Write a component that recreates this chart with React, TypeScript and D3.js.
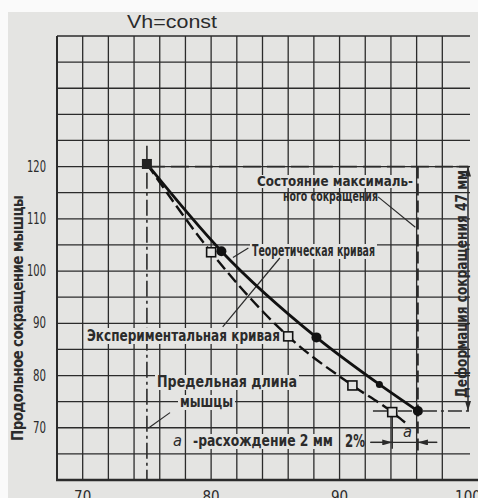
import React, { useRef, useEffect } from 'react';
import * as d3 from 'd3';

// theoretical curve (solid, filled dots)
const theoryX = [75, 80.8, 88.2, 93.1, 96.1];
const theoryY = [120.5, 103.8, 87.3, 78.3, 73.2];
// experimental curve (dashed, open squares); last point is only the line end
const expX = [75, 80, 86, 91, 94.1, 95.1];
const expY = [120.5, 103.6, 87.5, 78.1, 73, 71];

const yTicks = [70, 80, 90, 100, 110, 120];
const xTicks = [70, 80, 90, 100];

const BG = '#e4e4e2';
const INK = '#2b2b2b';
const FONT = "'DejaVu Sans Condensed', 'Liberation Sans Narrow', 'DejaVu Sans', sans-serif";

const App: React.FC = () => {
  const svgRef = useRef<SVGSVGElement>(null);

  useEffect(() => {
    if (!svgRef.current) return;
    const svg = d3.select(svgRef.current);
    svg.selectAll('*').remove();

    const width = 478;
    const height = 498;

    const x = d3.scaleLinear().domain([68, 100]).range([57, 468]);
    const y = d3.scaleLinear().domain([60, 145]).range([480, 36]);

    const defs = svg.append('defs');
    defs.append('marker')
      .attr('id', 'arr')
      .attr('viewBox', '0 0 10 6')
      .attr('refX', 10).attr('refY', 3)
      .attr('markerWidth', 10).attr('markerHeight', 6)
      .attr('markerUnits', 'userSpaceOnUse')
      .attr('orient', 'auto-start-reverse')
      .append('path')
      .attr('d', 'M0,0 L10,3 L0,6 Z')
      .attr('fill', INK);

    svg.append('rect').attr('width', width).attr('height', height).attr('fill', '#fafafa');
    svg.append('rect').attr('x', 8).attr('y', 12).attr('width', width - 8).attr('height', height - 12).attr('fill', BG);

    // grid
    const grid = svg.append('g').attr('stroke', INK).attr('stroke-width', 1.3);
    grid.selectAll('.vg')
      .data(d3.range(68, 99, 2))
      .enter().append('line')
      .attr('x1', d => x(d)).attr('x2', d => x(d))
      .attr('y1', y(60)).attr('y2', y(145))
      .attr('stroke-width', d => (d === 68 ? 2 : 1.3));
    grid.selectAll('.hg')
      .data(d3.range(65, 146, 5))
      .enter().append('line')
      .attr('x1', x(68)).attr('x2', 470)
      .attr('y1', d => y(d)).attr('y2', d => y(d));
    grid.append('line')
      .attr('x1', x(68) - 1).attr('x2', width)
      .attr('y1', y(60)).attr('y2', y(60))
      .attr('stroke-width', 2.4);

    // tick labels
    svg.append('g').selectAll('text')
      .data(yTicks)
      .enter().append('text')
      .attr('x', 46).attr('y', d => y(d) + 5)
      .attr('text-anchor', 'end')
      .attr('font-family', FONT).attr('font-size', 15).attr('fill', INK)
      .attr('textLength', d => (d >= 100 ? 19 : 13)).attr('lengthAdjust', 'spacingAndGlyphs')
      .text(d => d);
    svg.append('g').selectAll('text')
      .data(xTicks)
      .enter().append('text')
      .attr('x', d => x(d)).attr('y', 502)
      .attr('text-anchor', 'middle')
      .attr('font-family', FONT).attr('font-size', 15).attr('fill', INK)
      .text(d => d);

    svg.append('text')
      .attr('x', 172).attr('y', 28)
      .attr('text-anchor', 'middle')
      .attr('font-family', "'Liberation Sans', Arial, sans-serif")
      .attr('font-size', 19).attr('fill', INK)
      .attr('textLength', 90).attr('lengthAdjust', 'spacingAndGlyphs')
      .text('Vh=const');

    svg.append('text')
      .attr('transform', 'translate(23,318) rotate(-90)')
      .attr('text-anchor', 'middle')
      .attr('font-family', FONT).attr('font-size', 15).attr('font-weight', 'bold').attr('fill', INK)
      .attr('textLength', 246).attr('lengthAdjust', 'spacing')
      .text('Продольное  сокращение  мышцы');

    // labels with cleared background
    const label = (txt: string, lx: number, ly: number, len: number, size = 16, italic = false, bg = true) => {
      const t = svg.append('text')
        .attr('x', lx).attr('y', ly)
        .attr('font-family', FONT).attr('font-size', size).attr('fill', INK)
        .attr('font-weight', italic ? 'normal' : 'bold')
        .attr('font-style', italic ? 'italic' : 'normal')
        .attr('textLength', len).attr('lengthAdjust', 'spacingAndGlyphs')
        .text(txt);
      if (bg) {
        const b = (t.node() as SVGTextElement).getBBox();
        svg.insert('rect', () => t.node())
          .attr('x', b.x - 2).attr('y', b.y + 2).attr('width', b.width + 4).attr('height', b.height - 3)
          .attr('fill', BG);
      }
      return t;
    };

    // reference lines
    svg.append('line')
      .attr('x1', x(75)).attr('x2', x(75)).attr('y1', y(124)).attr('y2', y(60))
      .attr('stroke', INK).attr('stroke-width', 1.6).attr('stroke-dasharray', '16 4 3 4');
    svg.append('line')
      .attr('x1', x(75)).attr('x2', x(100)).attr('y1', y(120)).attr('y2', y(120))
      .attr('stroke', INK).attr('stroke-width', 1.8).attr('stroke-dasharray', '18 6');
    svg.append('line')
      .attr('x1', x(96.1)).attr('x2', x(96.1)).attr('y1', y(120)).attr('y2', y(65.5))
      .attr('stroke', INK).attr('stroke-width', 1.8).attr('stroke-dasharray', '12 5');
    svg.append('line')
      .attr('x1', x(92.6)).attr('x2', x(100.1)).attr('y1', y(73.2)).attr('y2', y(73.2))
      .attr('stroke', INK).attr('stroke-width', 1.5).attr('stroke-dasharray', '14 4 3 4');
    svg.append('line')
      .attr('x1', x(94.1)).attr('x2', x(94.1)).attr('y1', y(73)).attr('y2', y(66))
      .attr('stroke', INK).attr('stroke-width', 1.5);

    // right dimension: 47 mm
    svg.append('line')
      .attr('x1', x(100)).attr('x2', x(100)).attr('y1', y(73.2)).attr('y2', y(120))
      .attr('stroke', INK).attr('stroke-width', 1.5)
      .attr('marker-start', 'url(#arr)').attr('marker-end', 'url(#arr)');
    svg.append('line')
      .attr('x1', x(99.1)).attr('x2', x(100.1)).attr('y1', y(120)).attr('y2', y(120))
      .attr('stroke', INK).attr('stroke-width', 1.5);

    // "a" dimension
    const ay = 67.2;
    svg.append('line')
      .attr('x1', x(92.4)).attr('x2', x(97.6)).attr('y1', y(ay)).attr('y2', y(ay))
      .attr('stroke', INK).attr('stroke-width', 1.3);
    svg.append('line')
      .attr('x1', x(92.4)).attr('x2', x(94.1)).attr('y1', y(ay)).attr('y2', y(ay))
      .attr('stroke', INK).attr('stroke-width', 1.3).attr('marker-end', 'url(#arr)');
    svg.append('line')
      .attr('x1', x(97.6)).attr('x2', x(96.1)).attr('y1', y(ay)).attr('y2', y(ay))
      .attr('stroke', INK).attr('stroke-width', 1.3).attr('marker-end', 'url(#arr)');

    label('Состояние максималь-', 257, 186, 156, 14);
    label('ного сокращения', 283, 201, 95, 14, false, false);
    label('Теоретическая кривая', 252, 256, 123, 15);
    label('Экспериментальная кривая', 87, 341, 193, 16);
    label('Предельная   длина', 157, 387, 140, 15);
    label('мышцы', 180, 407, 53, 15);
    label('-расхождение 2 мм', 193, 446, 140, 15);
    label('2%', 345, 447, 20, 17, false, false);
    label('a', 173, 446, 9, 16, true, false);
    label('a', 403, 437, 9, 16, true, false);

    svg.append('text')
      .attr('transform', 'translate(467,284) rotate(-90)')
      .attr('text-anchor', 'middle')
      .attr('font-family', FONT).attr('font-size', 15).attr('font-weight', 'bold').attr('fill', INK)
      .attr('textLength', 228).attr('lengthAdjust', 'spacingAndGlyphs')
      .text('Деформация сокращения 47 мм');

    // leader lines
    const leaders: [number, number, number, number][] = [
      [93.0, 114.2, 95.9, 108.4],
      [82.9, 104.4, 81.7, 102.6],
      [80.9, 89.3, 85.35, 102.5],
      [75.1, 69.9, 76.8, 72.9],
    ];
    svg.append('g').selectAll('line')
      .data(leaders)
      .enter().append('line')
      .attr('x1', d => x(d[0])).attr('y1', d => y(d[1]))
      .attr('x2', d => x(d[2])).attr('y2', d => y(d[3]))
      .attr('stroke', INK).attr('stroke-width', 1.2);

    // curves
    const line = d3.line<number>()
      .x(d => x(d))
      .curve(d3.curveMonotoneX);

    svg.append('path')
      .attr('d', line.y((_, i) => y(expY[i]))(expX) as string)
      .attr('fill', 'none').attr('stroke', '#111').attr('stroke-width', 2.4)
      .attr('stroke-dasharray', '12 5');
    svg.append('path')
      .attr('d', line.y((_, i) => y(theoryY[i]))(theoryX) as string)
      .attr('fill', 'none').attr('stroke', '#111').attr('stroke-width', 2.8);

    const expPts = expX.slice(1, 5).map((d, i) => [d, expY[i + 1]]);
    svg.append('g').selectAll('rect')
      .data(expPts)
      .enter().append('rect')
      .attr('x', d => x(d[0]) - 4.5).attr('y', d => y(d[1]) - 4.5)
      .attr('width', 9).attr('height', 9)
      .attr('fill', BG).attr('stroke', '#111').attr('stroke-width', 1.6);

    const thPts = theoryX.slice(1).map((d, i) => [d, theoryY[i + 1], i === 2 ? 3.5 : 5]);
    svg.append('g').selectAll('circle')
      .data(thPts)
      .enter().append('circle')
      .attr('cx', d => x(d[0])).attr('cy', d => y(d[1])).attr('r', d => d[2])
      .attr('fill', '#111');

    svg.append('rect')
      .attr('x', x(theoryX[0]) - 5).attr('y', y(theoryY[0]) - 5)
      .attr('width', 10).attr('height', 10).attr('fill', '#222');
  }, []);

  return (
    <svg
      ref={svgRef}
      width={478}
      height={498}
      style={{ position: 'absolute', left: 0, top: 0 }}
    ></svg>
  );
};

export default App;
